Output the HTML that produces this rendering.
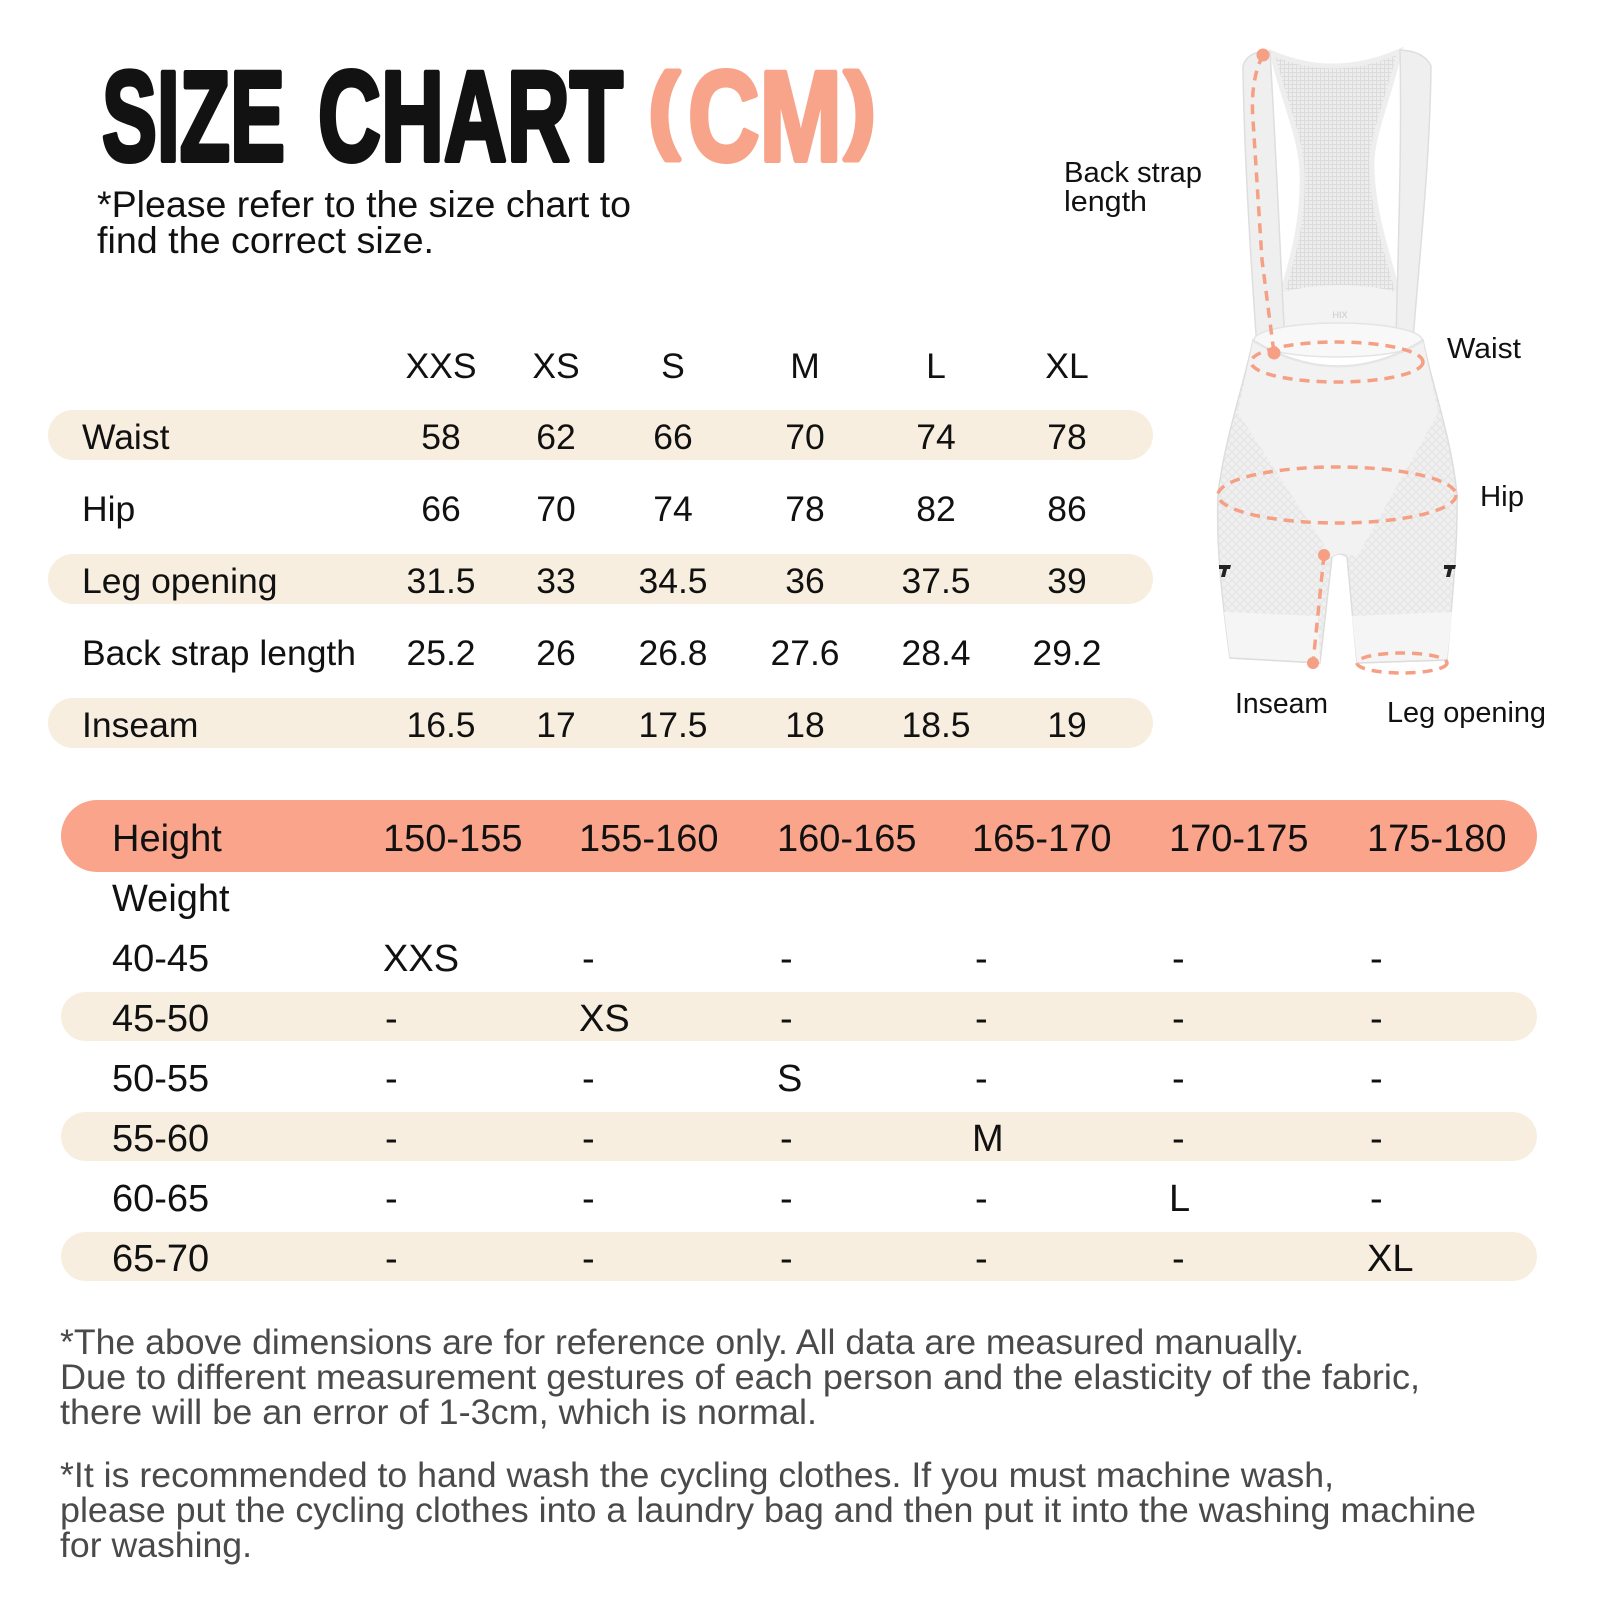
<!DOCTYPE html>
<html><head><meta charset="utf-8">
<style>
html,body{margin:0;padding:0;background:#fff;width:1600px;height:1600px;overflow:hidden;}
svg{display:block;}
text{font-family:"Liberation Sans",sans-serif;}
</style></head><body>
<svg width="1600" height="1600" viewBox="0 0 1600 1600" xmlns="http://www.w3.org/2000/svg">
<defs>
<pattern id="grid" width="4" height="4" patternUnits="userSpaceOnUse">
<rect width="4" height="4" fill="#ededed"/>
<path d="M0 0.5H4M0.5 0V4" stroke="#dcdcdc" stroke-width="1"/>
</pattern>
<pattern id="dia" width="8" height="8" patternUnits="userSpaceOnUse">
<rect width="8" height="8" fill="#f0f0f0"/>
<path d="M0 4L4 0L8 4L4 8Z" fill="none" stroke="#e4e4e4" stroke-width="1"/>
</pattern>
</defs>
<rect width="1600" height="1600" fill="#fff"/>

<!-- Title -->
<g font-family="'Liberation Sans Narrow','Liberation Sans',sans-serif" font-weight="bold" stroke-linejoin="round">
<text x="102" y="160.5" font-size="128" textLength="183" lengthAdjust="spacingAndGlyphs" fill="#121212" stroke="#121212" stroke-width="5">SIZE</text>
<text x="318" y="160.5" font-size="128" textLength="305" lengthAdjust="spacingAndGlyphs" fill="#121212" stroke="#121212" stroke-width="5">CHART</text>
<text x="649" y="140" font-size="95" textLength="30" lengthAdjust="spacingAndGlyphs" fill="#F8A48B" stroke="#F8A48B" stroke-width="6">(</text>
<text x="688" y="160.5" font-size="128" textLength="154" lengthAdjust="spacingAndGlyphs" fill="#F8A48B" stroke="#F8A48B" stroke-width="5">CM</text>
<text x="845" y="140" font-size="95" textLength="30" lengthAdjust="spacingAndGlyphs" fill="#F8A48B" stroke="#F8A48B" stroke-width="6">)</text>
</g>

<!-- Subtitle -->
<g fill="#111" font-size="37">
<text x="97" y="217" textLength="534" lengthAdjust="spacingAndGlyphs">*Please refer to the size chart to</text>
<text x="97" y="253" textLength="337" lengthAdjust="spacingAndGlyphs">find the correct size.</text>
</g>

<!-- Table 1 bars -->
<g fill="#F7EEDF">
<rect x="48" y="410" width="1105" height="50" rx="25"/>
<rect x="48" y="554" width="1105" height="50" rx="25"/>
<rect x="48" y="698" width="1105" height="50" rx="25"/>
</g>

<!-- Table 1 text -->
<g fill="#111" font-size="35.5">
<g text-anchor="middle">
<text x="441" y="378">XXS</text>
<text x="556" y="378">XS</text>
<text x="673" y="378">S</text>
<text x="805" y="378">M</text>
<text x="936" y="378">L</text>
<text x="1067" y="378">XL</text>

<text x="441" y="449">58</text><text x="556" y="449">62</text><text x="673" y="449">66</text><text x="805" y="449">70</text><text x="936" y="449">74</text><text x="1067" y="449">78</text>
<text x="441" y="521">66</text><text x="556" y="521">70</text><text x="673" y="521">74</text><text x="805" y="521">78</text><text x="936" y="521">82</text><text x="1067" y="521">86</text>
<text x="441" y="593">31.5</text><text x="556" y="593">33</text><text x="673" y="593">34.5</text><text x="805" y="593">36</text><text x="936" y="593">37.5</text><text x="1067" y="593">39</text>
<text x="441" y="665">25.2</text><text x="556" y="665">26</text><text x="673" y="665">26.8</text><text x="805" y="665">27.6</text><text x="936" y="665">28.4</text><text x="1067" y="665">29.2</text>
<text x="441" y="737">16.5</text><text x="556" y="737">17</text><text x="673" y="737">17.5</text><text x="805" y="737">18</text><text x="936" y="737">18.5</text><text x="1067" y="737">19</text>
</g>
<text x="82" y="449">Waist</text>
<text x="82" y="521">Hip</text>
<text x="82" y="593">Leg opening</text>
<text x="82" y="665" textLength="274" lengthAdjust="spacingAndGlyphs">Back strap length</text>
<text x="82" y="737">Inseam</text>
</g>

<!-- Table 2 bars -->
<rect x="61" y="800" width="1476" height="72" rx="36" fill="#F9A48B"/>
<g fill="#F7EEDF">
<rect x="61" y="992" width="1476" height="49" rx="24.5"/>
<rect x="61" y="1112" width="1476" height="49" rx="24.5"/>
<rect x="61" y="1232" width="1476" height="49" rx="24.5"/>
</g>

<!-- Table 2 text -->
<g fill="#111" font-size="38">
<text x="112" y="851">Height</text>
<text x="383" y="851">150-155</text>
<text x="579" y="851">155-160</text>
<text x="777" y="851">160-165</text>
<text x="972" y="851">165-170</text>
<text x="1169" y="851">170-175</text>
<text x="1367" y="851">175-180</text>

<text x="112" y="911">Weight</text>

<text x="112" y="971">40-45</text>
<text x="383" y="971">XXS</text><text x="582" y="971">-</text><text x="780" y="971">-</text><text x="975" y="971">-</text><text x="1172" y="971">-</text><text x="1370" y="971">-</text>

<text x="112" y="1031">45-50</text>
<text x="385" y="1031">-</text><text x="579" y="1031">XS</text><text x="780" y="1031">-</text><text x="975" y="1031">-</text><text x="1172" y="1031">-</text><text x="1370" y="1031">-</text>

<text x="112" y="1091">50-55</text>
<text x="385" y="1091">-</text><text x="582" y="1091">-</text><text x="777" y="1091">S</text><text x="975" y="1091">-</text><text x="1172" y="1091">-</text><text x="1370" y="1091">-</text>

<text x="112" y="1151">55-60</text>
<text x="385" y="1151">-</text><text x="582" y="1151">-</text><text x="780" y="1151">-</text><text x="972" y="1151">M</text><text x="1172" y="1151">-</text><text x="1370" y="1151">-</text>

<text x="112" y="1211">60-65</text>
<text x="385" y="1211">-</text><text x="582" y="1211">-</text><text x="780" y="1211">-</text><text x="975" y="1211">-</text><text x="1169" y="1211">L</text><text x="1370" y="1211">-</text>

<text x="112" y="1271">65-70</text>
<text x="385" y="1271">-</text><text x="582" y="1271">-</text><text x="780" y="1271">-</text><text x="975" y="1271">-</text><text x="1172" y="1271">-</text><text x="1367" y="1271">XL</text>
</g>

<!-- Footnotes -->
<g fill="#4a4a4a" font-size="35">
<text x="60" y="1354" textLength="1244" lengthAdjust="spacingAndGlyphs">*The above dimensions are for reference only. All data are measured manually.</text>
<text x="60" y="1389" textLength="1360" lengthAdjust="spacingAndGlyphs">Due to different measurement gestures of each person and the elasticity of the fabric,</text>
<text x="60" y="1424" textLength="757" lengthAdjust="spacingAndGlyphs">there will be an error of 1-3cm, which is normal.</text>
<text x="60" y="1487" textLength="1274" lengthAdjust="spacingAndGlyphs">*It is recommended to hand wash the cycling clothes. If you must machine wash,</text>
<text x="60" y="1522" textLength="1416" lengthAdjust="spacingAndGlyphs">please put the cycling clothes into a laundry bag and then put it into the washing machine</text>
<text x="60" y="1557" textLength="192" lengthAdjust="spacingAndGlyphs">for washing.</text>
</g>

<!-- Figure: bib shorts -->
<g>
<!-- back mesh panel -->
<path d="M1272,53 Q1335,80 1400,51 C1385,110 1370,140 1372,170 C1374,220 1390,260 1397,290 L1397,332 L1283,332 L1283,290 C1292,260 1304,220 1302,170 C1300,135 1285,105 1272,53 Z" fill="url(#grid)" stroke="#eeeeee" stroke-width="5"/>
<path d="M1283,292 Q1340,278 1397,292 L1397,332 L1283,332 Z" fill="#f3f3f3"/>
<text x="1340" y="318" font-size="9" fill="#c8c8c8" text-anchor="middle">HIX</text>
<!-- straps -->
<path d="M1243,66 Q1248,50 1270,52 C1276,150 1280,250 1285,345 L1257,348 C1250,250 1244,150 1243,66 Z" fill="#efefef" stroke="#dedede" stroke-width="1.5"/>
<path d="M1400,50 Q1424,51 1431,66 C1430,160 1420,250 1413,340 L1396,340 C1398,250 1402,150 1400,50 Z" fill="#efefef" stroke="#dedede" stroke-width="1.5"/>
<!-- inner back of shorts -->
<ellipse cx="1338" cy="340" rx="84" ry="17" fill="#f8f8f8" stroke="#e4e4e4" stroke-width="1.5"/>
<!-- body -->
<path d="M1253,340 C1244,385 1224,440 1218,495 C1216,545 1222,600 1230,658 L1320,663 L1332,557 Q1339,551 1347,557 L1357,663 L1447,660 C1452,600 1458,545 1457,495 C1452,440 1432,385 1423,340 Q1338,392 1253,340 Z" fill="url(#dia)" stroke="#dddddd" stroke-width="1.5"/>
<!-- smooth front region -->
<path d="M1253,341 Q1338,392 1423,341 C1428,365 1434,392 1438,413 L1357,557 Q1340,550 1332,557 L1238,413 C1242,392 1248,365 1253,341 Z" fill="#f2f2f2"/>
<!-- waistband front edge -->
<path d="M1253,341 Q1338,392 1423,341" fill="none" stroke="#e6e6e6" stroke-width="2"/>
<!-- leg bands -->
<path d="M1224,612 L1318,616 L1320,663 L1230,658 Z" fill="#f5f5f5"/>
<path d="M1352,616 L1452,612 L1447,660 L1357,663 Z" fill="#f5f5f5"/>
<path d="M1230,658 L1320,663 M1357,663 L1447,660" stroke="#dddddd" stroke-width="1.5"/>
<!-- logos -->
<path d="M1219,565 L1231,565 L1230,569 L1227,569 L1225,577 L1221,577 L1223,569 L1219,569 Z" fill="#222"/>
<path d="M1444,565 L1456,565 L1455,569 L1452,569 L1450,577 L1446,577 L1448,569 L1444,569 Z" fill="#222"/>

<!-- measurement dashes -->
<g fill="none" stroke="#F5A084" stroke-width="3.5" stroke-dasharray="10 7">
<path d="M1263,55 Q1250,80 1253,120 L1262,260 L1274,353"/>
<ellipse cx="1337" cy="362" rx="86" ry="20"/>
<ellipse cx="1337" cy="495" rx="119" ry="28"/>
<path d="M1324,555 L1313,663"/>
<ellipse cx="1402" cy="663" rx="45" ry="10"/>
</g>
<g fill="#F5A084">
<circle cx="1263" cy="55" r="6.5"/>
<circle cx="1274" cy="353" r="6.5"/>
<circle cx="1324" cy="555" r="6"/>
<circle cx="1313" cy="663" r="6"/>
</g>
</g>

<!-- Figure labels -->
<g fill="#111" font-size="29">
<text x="1064" y="182" textLength="138" lengthAdjust="spacingAndGlyphs">Back strap</text>
<text x="1064" y="211" textLength="83" lengthAdjust="spacingAndGlyphs">length</text>
<text x="1447" y="358" textLength="74" lengthAdjust="spacingAndGlyphs">Waist</text>
<text x="1480" y="506" textLength="44" lengthAdjust="spacingAndGlyphs">Hip</text>
<text x="1235" y="713" textLength="93" lengthAdjust="spacingAndGlyphs">Inseam</text>
<text x="1387" y="722" textLength="159" lengthAdjust="spacingAndGlyphs">Leg opening</text>
</g>
</svg>
</body></html>
